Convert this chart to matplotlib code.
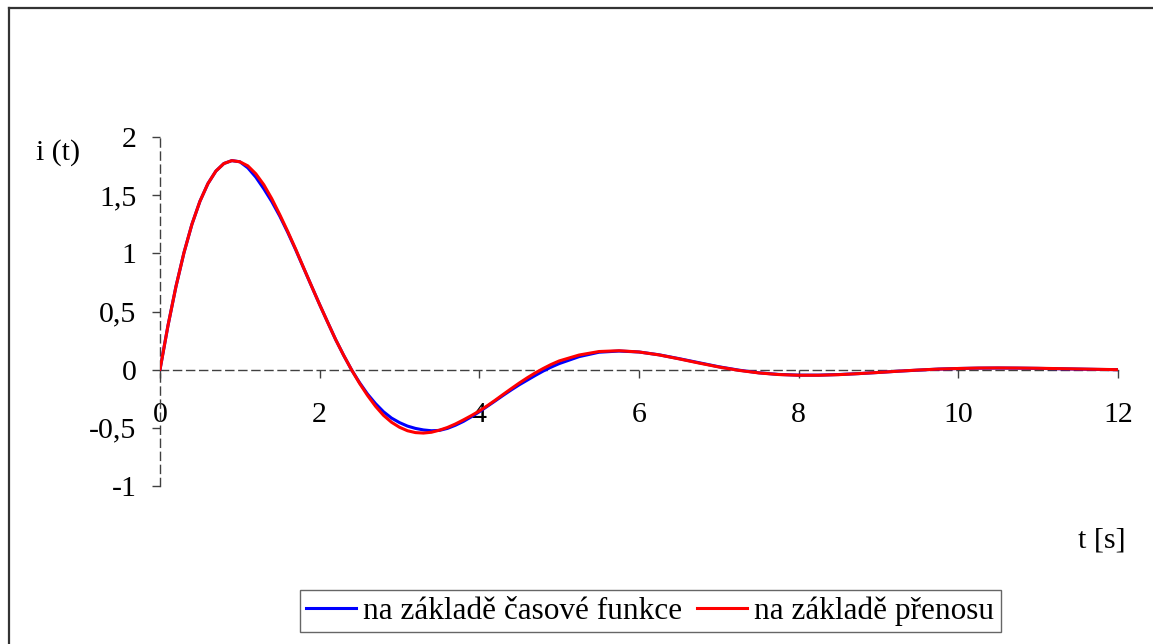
import matplotlib
matplotlib.use("Agg")
import matplotlib.pyplot as plt
from matplotlib.lines import Line2D

plt.rcParams['font.family'] = ['Liberation Serif', 'DejaVu Serif']

# time axis (s)
t = [0.0, 0.1, 0.2, 0.3, 0.4, 0.5, 0.6, 0.7, 0.8, 0.9, 1.0,
     1.1, 1.2, 1.3, 1.4, 1.5, 1.6, 1.7, 1.8, 1.9, 2.0,
     2.1, 2.2, 2.3, 2.4, 2.5, 2.6, 2.7, 2.8, 2.9, 3.0,
     3.1, 3.2, 3.3, 3.4, 3.5, 3.6, 3.7, 3.8, 3.9, 4.0,
     4.1, 4.2, 4.3, 4.4, 4.5, 4.6, 4.7, 4.8, 4.9, 5.0,
     5.25, 5.5, 5.75, 6.0, 6.25, 6.5, 6.75, 7.0, 7.25, 7.5, 7.75, 8.0,
     8.25, 8.5, 8.75, 9.0, 9.25, 9.5, 9.75, 10.0, 10.25, 10.5, 10.75, 11.0,
     11.25, 11.5, 11.75, 12.0]

# na základě časové funkce
i_time = [0, 0.379, 0.715, 1.005, 1.250, 1.447, 1.599, 1.707, 1.772, 1.797, 1.787,
          1.735, 1.655, 1.555, 1.445, 1.320, 1.180, 1.030, 0.872, 0.715, 0.559,
          0.408, 0.259, 0.124, -0.002, -0.112, -0.210, -0.292, -0.362, -0.416, -0.455,
          -0.485, -0.505, -0.518, -0.525, -0.522, -0.505, -0.478, -0.445, -0.405, -0.362,
          -0.315, -0.268, -0.220, -0.174, -0.130, -0.090, -0.050, -0.012, 0.022, 0.052,
          0.112, 0.150, 0.160, 0.152, 0.128, 0.095, 0.060, 0.025, -0.004, -0.027, -0.041,
          -0.047, -0.047, -0.042, -0.034, -0.024, -0.013, -0.004, 0.005, 0.010, 0.013,
          0.014, 0.013, 0.011, 0.008, 0.005, 0.002, 0.0]

# na základě přenosu
i_tf = [0, 0.379, 0.715, 1.005, 1.250, 1.447, 1.599, 1.707, 1.772, 1.797, 1.787,
        1.752, 1.684, 1.590, 1.470, 1.333, 1.188, 1.035, 0.874, 0.716, 0.559,
        0.408, 0.259, 0.124, -0.002, -0.118, -0.222, -0.315, -0.393, -0.452, -0.495,
        -0.525, -0.541, -0.545, -0.538, -0.520, -0.497, -0.467, -0.432, -0.395, -0.355,
        -0.310, -0.262, -0.212, -0.163, -0.115, -0.070, -0.028, 0.010, 0.045, 0.075,
        0.126, 0.156, 0.163, 0.152, 0.127, 0.093, 0.057, 0.023, -0.006, -0.028, -0.042,
        -0.048, -0.048, -0.043, -0.034, -0.024, -0.013, -0.003, 0.005, 0.010, 0.014,
        0.015, 0.014, 0.012, 0.009, 0.006, 0.003, 0.0]

x_ticks = [0, 2, 4, 6, 8, 10, 12]
y_ticks = [-1, -0.5, 0, 0.5, 1, 1.5, 2]
y_tick_labels = ['-1', '-0,5', '0', '0,5', '1', '1,5', '2']

FS = 21.5
FS_LEG = 22.5
W, H = 1153, 644
fig = plt.figure(figsize=(W / 100, H / 100), dpi=100)
ax = fig.add_axes([160 / W, 1 - 486 / H, (1118 - 160) / W, (486 - 137) / H])

ax.plot(t, i_time, color='#0000ff', lw=2.2, solid_joinstyle='round',
        solid_capstyle='round', label='na základě časové funkce', zorder=3)
ax.plot(t, i_tf, color='#ff0000', lw=2.2, solid_joinstyle='round',
        solid_capstyle='round', label='na základě přenosu', zorder=4)

ax.set_xlim(0, 12)
ax.set_ylim(-1, 2)

for s in ['top', 'right']:
    ax.spines[s].set_visible(False)
for s in ['left', 'bottom']:
    ax.spines[s].set_position(('data', 0))
    ax.spines[s].set_linestyle((0, (5.8, 3.6)))
    ax.spines[s].set_color('#404040')
    ax.spines[s].set_linewidth(1.0)

ax.set_xticks(x_ticks)
ax.set_xticklabels([str(v) for v in x_ticks])
ax.set_yticks(y_ticks)
ax.set_yticklabels(y_tick_labels)
ax.tick_params(axis='x', direction='out', length=6, width=1, color='#404040',
               labelsize=FS, pad=17)
ax.tick_params(axis='y', direction='out', length=6, width=1, color='#404040',
               labelsize=FS, pad=11)

fig.text(36 / W, 1 - 153 / H, 'i (t)', fontsize=FS, ha='left', va='center')
fig.text(1078 / W, 1 - 541 / H, 't [s]', fontsize=FS, ha='left', va='center')

handles = [Line2D([0], [0], color='#0000ff', lw=2.2), Line2D([0], [0], color='#ff0000', lw=2.2)]
leg = fig.legend(handles, ['na základě časové funkce', 'na základě přenosu'],
                 loc='center', bbox_to_anchor=(650 / W, 1 - 611 / H), ncol=2,
                 fontsize=FS_LEG, frameon=True, fancybox=False, handlelength=1.6,
                 handletextpad=0.22, columnspacing=0.5, borderpad=0.2,
                 borderaxespad=0)
leg.get_frame().set_edgecolor('#404040')
leg.get_frame().set_linewidth(1.0)

# outer chart frame (top and left visible)
fig.add_artist(Line2D([9 / W, 9 / W], [0, 1 - 8 / H], transform=fig.transFigure,
                      color='#333333', lw=1.6))
fig.add_artist(Line2D([9 / W, 1], [1 - 8 / H, 1 - 8 / H], transform=fig.transFigure,
                      color='#333333', lw=1.6))

fig.savefig('out.png', dpi=100)
